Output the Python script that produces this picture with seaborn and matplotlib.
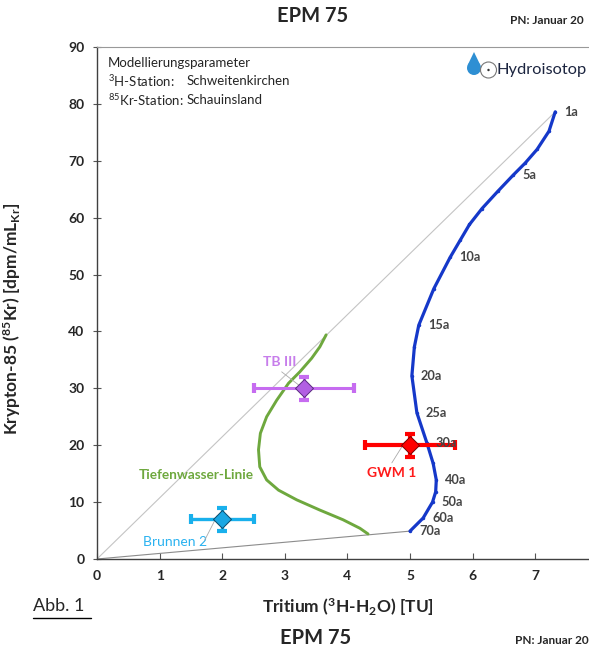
import numpy as np
import pandas as pd
import matplotlib
matplotlib.use("Agg")
import matplotlib.pyplot as plt
import seaborn as sns
from matplotlib.patches import Circle, Polygon
from matplotlib.lines import Line2D
from matplotlib.ticker import MultipleLocator

# --- EPM 75 model curve (blue), mean residence time in years ---
epm_age = [1, 2, 3, 4, 5, 6, 7, 8, 9, 10, 12, 15, 17, 20, 25, 30, 35, 40, 45, 50, 60, 70]
epm_h3 = [7.32, 7.22, 7.03, 6.84, 6.65, 6.40, 6.15, 5.95, 5.80, 5.64, 5.38, 5.14, 5.07,
          5.03, 5.11, 5.27, 5.37, 5.42, 5.41, 5.36, 5.21, 5.00]
epm_kr = [78.6, 75.2, 72.0, 69.6, 67.5, 64.6, 61.6, 58.8, 56.0, 53.0, 47.5, 41.1, 37.3,
          32.2, 25.7, 20.4, 16.8, 13.9, 11.8, 10.0, 7.2, 4.9]
label_ages = [1, 5, 10, 15, 20, 25, 30, 40, 50, 60, 70]

# --- Tiefenwasser-Linie (green) ---
tw_h3 = [3.66, 3.56, 3.43, 3.24, 3.06, 2.87, 2.71, 2.61, 2.58, 2.60, 2.71, 2.90,
         3.19, 3.56, 3.93, 4.20, 4.33]
tw_kr = [39.4, 37.3, 35.3, 32.9, 30.9, 27.9, 25.0, 22.1, 19.2, 16.2, 13.9, 12.1,
         10.4, 8.6, 6.9, 5.4, 4.4]

# --- samples ---
samples = ["TB III", "GWM 1", "Brunnen 2"]
s_h3 = [3.3, 5.0, 2.0]
s_h3_err = [0.8, 0.72, 0.5]
s_kr = [30.0, 20.0, 7.0]
s_kr_err = [2.0, 2.0, 2.0]

W, H = 589, 649
def fx(px):
    return px / W
def fy(py):
    return 1 - py / H

sns.set_theme(style="white")
plt.rcParams["font.family"] = ["Lato", "DejaVu Sans"]
plt.rcParams["mathtext.fontset"] = "custom"
plt.rcParams["mathtext.rm"] = "Lato"
plt.rcParams["mathtext.bf"] = "Lato:bold"
plt.rcParams["mathtext.it"] = "Lato:italic"

fig = plt.figure(figsize=(W / 100, H / 100), dpi=100)
XMAX = 7.98
ax = fig.add_axes([fx(97), fy(559), 62.6 * XMAX / W, 512 / H])

epm = pd.DataFrame({"h3": epm_h3, "kr": epm_kr, "age": epm_age})
tw = pd.DataFrame({"h3": tw_h3, "kr": tw_kr})

# grey reference lines from origin to first / last model point
sns.lineplot(x=[0, epm_h3[0]], y=[0, epm_kr[0]], ax=ax, color="#c4c4c4",
             lw=0.8, sort=False, estimator=None)
sns.lineplot(x=[0, epm_h3[-1]], y=[0, epm_kr[-1]], ax=ax, color="#8c8c8c",
             lw=0.8, sort=False, estimator=None)

sns.lineplot(data=tw, x="h3", y="kr", ax=ax, color="#6ea83e", lw=2.1,
             sort=False, estimator=None)
sns.lineplot(data=epm, x="h3", y="kr", ax=ax, color="#1538c9", lw=2.3,
             sort=False, estimator=None, marker="o", markersize=2.5,
             markeredgewidth=0)

for a in label_ages:
    i = epm_age.index(a)
    ax.annotate(f"{a}a", (epm_h3[i], epm_kr[i]), xytext=(9, 0),
                textcoords="offset pixels", ha="left", va="center",
                fontsize=9.2, fontweight="bold", color="#444444", zorder=7)

face = {"TB III": "#b25fe3", "GWM 1": "#ff0000", "Brunnen 2": "#1aa7e3"}
edge = {"TB III": "#5a2a80", "GWM 1": "#7a0000", "Brunnen 2": "#0b4a6a"}
bar = {"TB III": "#c66cf0", "GWM 1": "#ff0000", "Brunnen 2": "#19b0ec"}
lwid = {"TB III": 2.2, "GWM 1": 3.0, "Brunnen 2": 2.4}
for n, x, xe, y, ye in zip(samples, s_h3, s_h3_err, s_kr, s_kr_err):
    ax.errorbar(x, y, xerr=xe, yerr=ye, fmt="none", ecolor=bar[n],
                elinewidth=lwid[n], capsize=3.5, capthick=3, zorder=4)
    ax.plot(x, y, marker="D", ms=9, mfc=face[n], mec=edge[n], mew=0.7, zorder=5)

# sample labels with grey leader lines
lab_pos = {"TB III": (2.92, 34.6), "GWM 1": (4.70, 15.1), "Brunnen 2": (1.25, 3.0)}
lead = {"TB III": (2.95, 32.9), "GWM 1": (4.71, 16.9), "Brunnen 2": (1.72, 3.3)}
lcol = {"TB III": "#c77deb", "GWM 1": "#ff1a1a", "Brunnen 2": "#2ab2f0"}
lwt = {"TB III": "bold", "GWM 1": "bold", "Brunnen 2": "normal"}
for n, x, y in zip(samples, s_h3, s_kr):
    ax.text(*lab_pos[n], n, color=lcol[n], fontsize=10, fontweight=lwt[n],
            ha="center", va="center")
    ax.plot([lead[n][0], x - 0.08], [lead[n][1], y + 0.6],
            color="#aaaaaa", lw=0.6, zorder=3)

ax.text(1.58, 14.8, "Tiefenwasser-Linie", color="#6ea83e", fontsize=9.8,
        fontweight="bold", ha="center", va="center")

ax.set_xlim(0, XMAX)
ax.set_ylim(0, 90)
ax.xaxis.set_major_locator(MultipleLocator(1))
ax.xaxis.set_minor_locator(MultipleLocator(0.5))
ax.yaxis.set_major_locator(MultipleLocator(10))
ax.yaxis.set_minor_locator(MultipleLocator(5))
ax.tick_params(axis="x", which="both", direction="in", length=4, width=0.8,
               color="#555555", labelsize=10, pad=8)
ax.tick_params(axis="y", which="both", direction="inout", length=6, width=0.8,
               color="#555555", labelsize=10, pad=6)
ax.tick_params(left=True, bottom=True)
for lab in ax.get_xticklabels() + ax.get_yticklabels():
    lab.set_fontweight("bold")
for s in ["left", "bottom"]:
    ax.spines[s].set_color("#404040")
    ax.spines[s].set_linewidth(1.0)
for s in ["top", "right"]:
    ax.spines[s].set_color("#999999")
    ax.spines[s].set_linewidth(0.8)

ax.set_xlabel(r"Tritium ($\mathbf{^{3}}$H-H$\mathbf{_{2}}$O) [TU]",
              fontsize=12.5, fontweight="bold")
ax.set_ylabel(r"Krypton-85 ($\mathbf{^{85}}$Kr) [dpm/mL$\mathbf{_{Kr}}$]",
              fontsize=12.5, fontweight="bold")
ax.xaxis.set_label_coords(0.501 * 8 / XMAX, -0.072)
ax.yaxis.set_label_coords(-0.148, 0.47)

# parameter box
fig.text(fx(108), fy(63), "Modellierungsparameter", fontsize=9.5, va="center")
fig.text(fx(108), fy(81), r"$^{3}$H-Station:", fontsize=9.5, va="center")
fig.text(fx(187), fy(81), "Schweitenkirchen", fontsize=9.5, va="center")
fig.text(fx(108), fy(100), r"$^{85}$Kr-Station:", fontsize=9.5, va="center")
fig.text(fx(187), fy(100), "Schauinsland", fontsize=9.5, va="center")

# logo
lax = fig.add_axes([fx(460), fy(82), 40 / W, 32 / H])
lax.set_xlim(460, 500)
lax.set_ylim(82, 50)
lax.axis("off")
lax.add_patch(Circle((474, 68), 7, color="#2e8fd3", lw=0))
lax.add_patch(Polygon([(474, 52), (467.4, 65.6), (480.6, 65.6)], closed=True,
                      color="#2e8fd3", lw=0))
lax.add_patch(Circle((488.5, 70), 8, facecolor="white", edgecolor="#777777", lw=0.8))
lax.add_patch(Circle((488.5, 70), 1.2, color="#333333", lw=0))
fig.text(fx(497), fy(70), "Hydroisotop", fontsize=11.8, color="#1c2540", va="center")

# header / footer
fig.text(fx(313), fy(16), "EPM 75", fontsize=14.5, fontweight="bold", ha="center", va="center")
fig.text(fx(316), fy(638), "EPM 75", fontsize=14.5, fontweight="bold", ha="center", va="center")
fig.text(fx(510), fy(21), "PN: Januar 20", fontsize=8.5, fontweight="bold", va="center")
fig.text(fx(515), fy(641), "PN: Januar 20", fontsize=8.5, fontweight="bold", va="center")
fig.text(fx(33), fy(606), "Abb. 1", fontsize=13, va="center")
fig.add_artist(Line2D([fx(33), fx(91)], [fy(618), fy(618)], color="black", lw=1.0))

plt.savefig("out.png", dpi=100)
plt.close()
